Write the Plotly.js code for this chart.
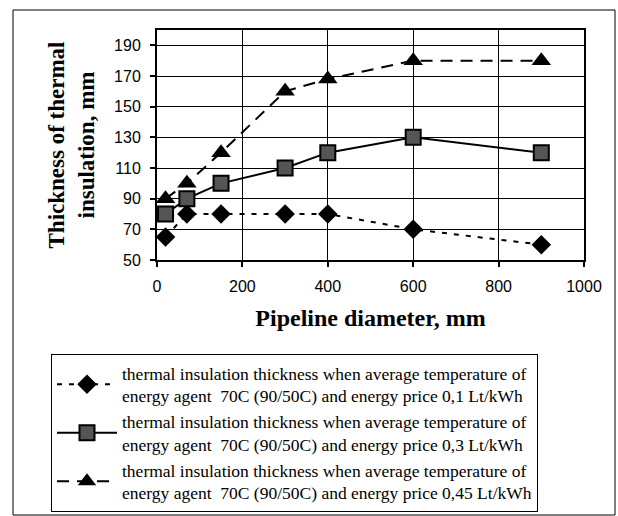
<!DOCTYPE html>
<html>
<head>
<meta charset="utf-8">
<script src="https://cdn.plot.ly/plotly-3.0.1.min.js"></script>
<style>
html,body{margin:0;padding:0;background:#fff;}
#chart{width:618px;height:516px;}
</style>
</head>
<body>
<div id="chart"></div>
<script>
var diameters = [20, 70, 150, 300, 400, 600, 900];
var price010 = [65, 80, 80, 80, 80, 70, 60];
var price030 = [80, 90, 100, 110, 120, 130, 120];
var price045 = [90, 100, 120, 160, 168, 180, 180];
var seriesNames = [
  'thermal insulation thickness when average temperature of<br>energy agent  70C (90/50C) and energy price 0,1 Lt/kWh',
  'thermal insulation thickness when average temperature of<br>energy agent  70C (90/50C) and energy price 0,3 Lt/kWh',
  'thermal insulation thickness when average temperature of<br>energy agent  70C (90/50C) and energy price 0,45 Lt/kWh'
];
var yTicks = [50, 70, 90, 110, 130, 150, 170, 190];
var xTicks = [0, 200, 400, 600, 800, 1000];

var traces = [
  {x: diameters, y: price010, name: seriesNames[0], mode: 'lines+markers',
   line: {color: '#000', width: 2, dash: '5px,7px'},
   marker: {symbol: 'diamond', size: 15, color: '#000'}},
  {x: diameters, y: price030, name: seriesNames[1], mode: 'lines+markers',
   line: {color: '#000', width: 2},
   marker: {symbol: 'square', size: 15, color: '#555', line: {color: '#000', width: 2}}},
  {x: diameters, y: price045, name: seriesNames[2], mode: 'lines+markers',
   line: {color: '#000', width: 2, dash: '12px,8px'},
   marker: {symbol: 'triangle-up', size: 17, color: '#000'}}
];

var W = 618, H = 516, L = 157, R = 34, T = 30, B = 256;
var pw = W - L - R, ph = H - T - B;
function px(x){ return (x - L) / pw; }
function py(y){ return (H - B - y) / ph; }

var layout = {
  width: W, height: H,
  margin: {l: L, r: R, t: T, b: B, autoexpand: false},
  paper_bgcolor: '#fff', plot_bgcolor: '#fff',
  font: {family: 'Arial, Liberation Sans, sans-serif', color: '#000'},
  showlegend: true,
  xaxis: {
    range: [0, 1000], tickvals: xTicks, ticktext: xTicks.map(String),
    showgrid: true, gridcolor: '#000', gridwidth: 1,
    showline: true, linecolor: '#000', linewidth: 2, mirror: true,
    ticks: 'outside', ticklen: 5, tickcolor: '#000', tickwidth: 2,
    ticklabelstandoff: 6, automargin: false,
    zeroline: false, tickfont: {size: 16, family: 'Arial, Liberation Sans, sans-serif'},
    title: {text: 'Pipeline diameter, mm', standoff: 15,
            font: {family: 'Liberation Serif, Times New Roman, serif', size: 24, weight: 'bold'}}
  },
  yaxis: {
    range: [50, 200], tickvals: yTicks, ticktext: yTicks.map(String),
    showgrid: true, gridcolor: '#000', gridwidth: 1,
    showline: true, linecolor: '#000', linewidth: 2, mirror: true,
    ticks: 'outside', ticklen: 5, tickcolor: '#000', tickwidth: 2,
    ticklabelstandoff: 6, automargin: false,
    zeroline: false, tickfont: {size: 16, family: 'Arial, Liberation Sans, sans-serif'},
    title: {text: 'Thickness of thermal<br>insulation, mm', standoff: 13,
            font: {family: 'Liberation Serif, Times New Roman, serif', size: 23, weight: 'bold'}}
  },
  legend: {
    x: px(51), y: py(354), xanchor: 'left', yanchor: 'top',
    bordercolor: '#000', borderwidth: 1, bgcolor: '#fff',
    font: {family: 'Liberation Serif, Times New Roman, serif', size: 17.5, color: '#000'},
    itemwidth: 60, tracegroupgap: 0
  },
  shapes: [
    {type: 'rect', xref: 'paper', yref: 'paper', x0: px(13), x1: px(615), y0: py(515), y1: py(10),
     line: {color: '#000', width: 1}, fillcolor: 'rgba(0,0,0,0)', layer: 'below'}
  ]
};

Plotly.newPlot('chart', traces, layout, {displayModeBar: false, staticPlot: true});
</script>
</body>
</html>
